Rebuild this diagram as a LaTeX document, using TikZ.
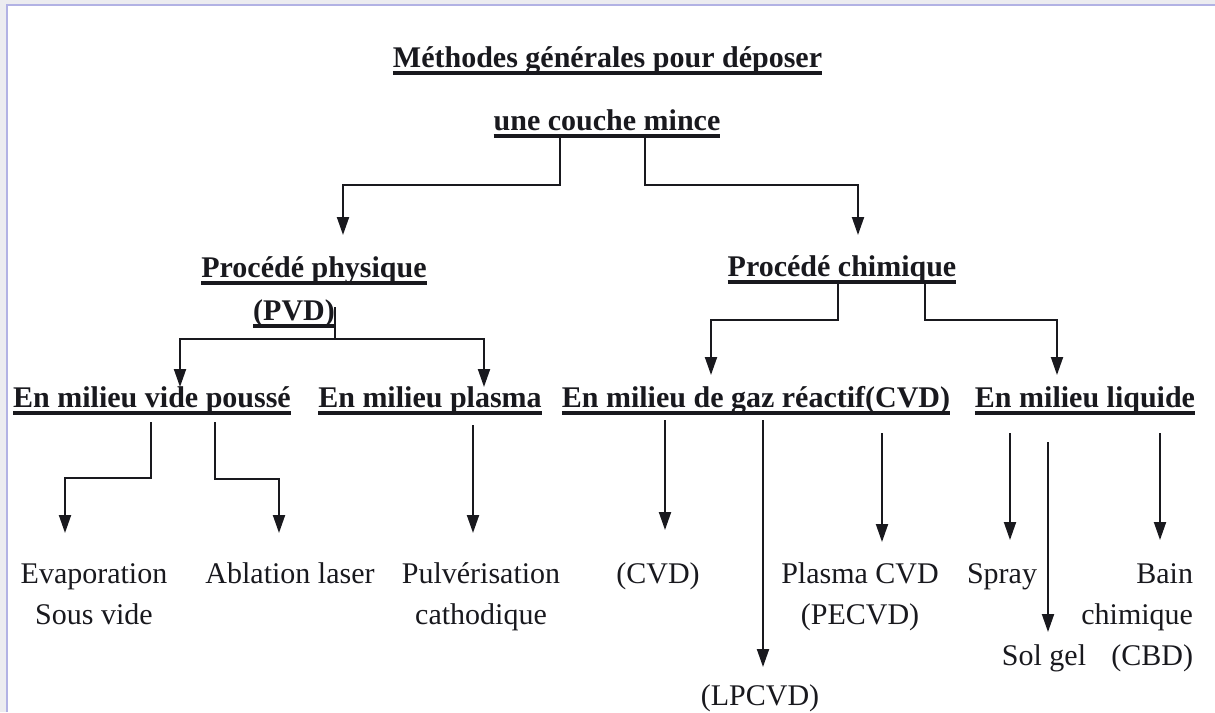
\documentclass[tikz,border=0pt]{standalone}
\usepackage{fontspec}
\setmainfont{Liberation Serif}
\usetikzlibrary{arrows.meta}
\definecolor{framecol}{RGB}{178,178,228}
\definecolor{outsidecol}{RGB}{236,236,240}
\definecolor{inkcol}{RGB}{25,25,30}
\begin{document}
\begin{tikzpicture}[x=0.5pt,y=-0.5pt,
  every node/.style={inner sep=0pt, outer sep=0pt, text=inkcol, font=\fontsize{15}{20.5}\selectfont},
  head/.style={font=\fontsize{15}{20.5}\selectfont\bfseries, anchor=base},
  leaf/.style={anchor=base, align=center},
  conn/.style={line width=1pt, draw=inkcol},
  arr/.style={conn, -{Triangle[width=6pt,length=9pt]}},
  ul/.style={line width=2pt, draw=inkcol}]
\useasboundingbox (0,0) rectangle (1215,712);
\fill[outsidecol] (0,0) rectangle (1215,712);
\fill[white] (7,5) rectangle (1215,712);
\draw[framecol, line width=1.2pt] (7,712) -- (7,5) -- (1215,5);

% headings
\node[head] (t1) at (607.5,67) {Méthodes générales pour déposer};
\node[head] (t2) at (607,130) {une couche mince};
\node[head] (pp) at (314,277) {Procédé physique};
\node[head] (pvd) at (294,320) {(PVD)};
\node[head] (pc) at (842,276) {Procédé chimique};
\node[head] (vide) at (152,407) {En milieu vide poussé};
\node[head] (plasma) at (430,407) {En milieu plasma};
\node[head] (gaz) at (756,407) {En milieu de gaz réactif(CVD)};
\node[head] (liq) at (1085,407) {En milieu liquide};
\foreach \n in {t1,t2,pp,pvd,pc,vide,plasma,gaz,liq}
  \draw[ul] ([yshift=-3pt]\n.base west) -- ([yshift=-3pt]\n.base east);

% leaves (multi-line nodes: base anchor is the last line)
\node[leaf] (ev) at (94,624) {Evaporation\\Sous vide};
\node[leaf] (abl) at (290,583) {Ablation laser};
\node[leaf] (pul) at (481,624) {Pulvérisation\\cathodique};
\node[leaf] (cvd) at (658,583) {(CVD)};
\node[leaf] (pe) at (860,624) {Plasma CVD\\(PECVD)};
\node[leaf] (lp) at (760,705) {(LPCVD)};
\node[leaf] (spray) at (1002,583) {Spray};
\node[leaf] (sol) at (1044,665) {Sol gel};
\node[anchor=base east, align=right] (bain) at (1193,665) {Bain\\chimique\\(CBD)};

% connector coordinates
\coordinate (sA) at (560,136);  \coordinate (eA) at (343,235);
\coordinate (sB) at (645,136);  \coordinate (eB) at (858,235);
\coordinate (sP) at (335,307);  \coordinate (eP1) at (180,387); \coordinate (eP2) at (484,387);
\coordinate (sC1) at (838,283); \coordinate (eC1) at (711,375);
\coordinate (sC2) at (925,283); \coordinate (eC2) at (1057,375);
\coordinate (sV1) at (151,422); \coordinate (eV1) at (65,533);
\coordinate (sV2) at (215,422); \coordinate (eV2) at (279,533);
\coordinate (sPl) at (473,425); \coordinate (ePl) at (473,533);
\coordinate (sG1) at (665,420); \coordinate (eG1) at (665,530);
\coordinate (sG2) at (763,420); \coordinate (eG2) at (763,667);
\coordinate (sG3) at (882,433); \coordinate (eG3) at (882,542);
\coordinate (sL1) at (1010,433); \coordinate (eL1) at (1010,540);
\coordinate (sL2) at (1048,442); \coordinate (eL2) at (1048,632);
\coordinate (sL3) at (1160,433); \coordinate (eL3) at (1160,540);

\draw[arr] (sA) -- ++(0,49) -| (eA);
\draw[arr] (sB) -- ++(0,49) -| (eB);
\draw[arr] (sP) -- ++(0,32) -| (eP1);
\draw[arr] (sP) -- ++(0,32) -| (eP2);
\draw[arr] (sC1) -- ++(0,37) -| (eC1);
\draw[arr] (sC2) -- ++(0,37) -| (eC2);
\draw[arr] (sV1) -- ++(0,56) -| (eV1);
\draw[arr] (sV2) -- ++(0,57) -| (eV2);
\draw[arr] (sPl) -- (ePl);
\draw[arr] (sG1) -- (eG1);
\draw[arr] (sG2) -- (eG2);
\draw[arr] (sG3) -- (eG3);
\draw[arr] (sL1) -- (eL1);
\draw[arr] (sL2) -- (eL2);
\draw[arr] (sL3) -- (eL3);
\end{tikzpicture}
\end{document}
